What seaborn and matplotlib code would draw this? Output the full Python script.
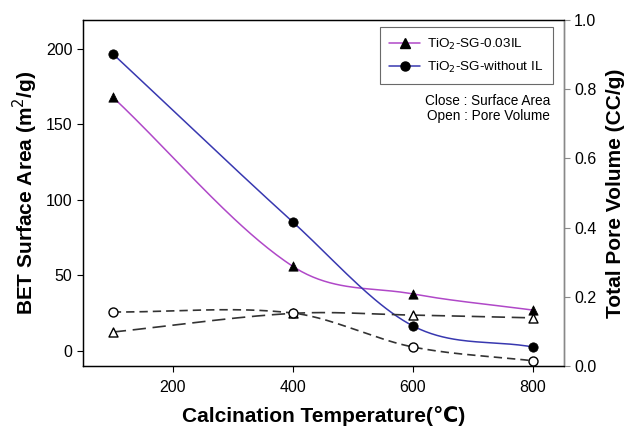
import numpy as np
import pandas as pd
import seaborn as sns
import matplotlib.pyplot as plt
from matplotlib.lines import Line2D

# Values
temp = [100, 400, 600, 800]

# Close symbols: BET surface area (m2/g), left axis
area_il = [168, 56, 37.7, 27]
area_no_il = [196.7, 85.4, 16.6, 2.6]

# Open symbols: total pore volume (CC/g), right axis
pore_il = [0.098, 0.152, 0.147, 0.139]
pore_no_il = [0.156, 0.153, 0.055, 0.015]

label_il = 'TiO$_2$-SG-0.03IL'
label_no_il = 'TiO$_2$-SG-without IL'


# Catmull-Rom style cubic through the points, so the lines are smooth like the original
def smooth(x, y, n=150):
    x = np.asarray(x, float)
    y = np.asarray(y, float)
    h = np.diff(x)
    m = np.zeros(len(x))
    m[0] = (y[1] - y[0]) / h[0]
    m[-1] = (y[-1] - y[-2]) / h[-1]
    m[1:-1] = (y[2:] - y[:-2]) / (x[2:] - x[:-2])
    xs = np.linspace(x[0], x[-1], n)
    idx = np.clip(np.searchsorted(x, xs) - 1, 0, len(x) - 2)
    t = (xs - x[idx]) / h[idx]
    h00 = 2 * t ** 3 - 3 * t ** 2 + 1
    h10 = t ** 3 - 2 * t ** 2 + t
    h01 = -2 * t ** 3 + 3 * t ** 2
    h11 = t ** 3 - t ** 2
    ys = h00 * y[idx] + h10 * h[idx] * m[idx] + h01 * y[idx + 1] + h11 * h[idx] * m[idx + 1]
    return pd.DataFrame({'x': xs, 'y': ys})


sns.set_style('ticks')
plt.rcParams['font.family'] = ['Liberation Sans', 'DejaVu Sans']
plt.rcParams['text.color'] = 'black'
plt.rcParams['axes.labelcolor'] = 'black'
plt.rcParams['xtick.color'] = 'black'
plt.rcParams['ytick.color'] = 'black'
plt.rcParams['axes.edgecolor'] = 'black'

purple = '#b048c8'
blue = '#3838b0'

fig = plt.figure(figsize=(6.32, 4.28), dpi=100)
ax = fig.add_axes([0.131, 0.145, 0.761, 0.808])
ax2 = ax.twinx()

# surface area (left axis)
sns.lineplot(data=smooth(temp, area_il), x='x', y='y', ax=ax, color=purple, lw=1.1, sort=False)
sns.lineplot(data=smooth(temp, area_no_il), x='x', y='y', ax=ax, color=blue, lw=1.1, sort=False)
sns.scatterplot(x=temp, y=area_il, ax=ax, marker='^', color='black', s=45, edgecolor='black', zorder=5)
sns.scatterplot(x=temp, y=area_no_il, ax=ax, marker='o', color='black', s=45, edgecolor='black', zorder=5)

# pore volume (right axis)
sns.lineplot(data=smooth(temp, pore_il), x='x', y='y', ax=ax2, color='#333333', lw=1.2,
             sort=False, linestyle=(0, (8, 4)))
sns.lineplot(data=smooth(temp, pore_no_il), x='x', y='y', ax=ax2, color='#333333', lw=1.2,
             sort=False, linestyle=(0, (5, 3)))
sns.scatterplot(x=temp, y=pore_il, ax=ax2, marker='^', color='white', s=42, edgecolor='black',
                linewidth=1, zorder=5)
sns.scatterplot(x=temp, y=pore_no_il, ax=ax2, marker='o', color='white', s=42, edgecolor='black',
                linewidth=1, zorder=5)

ax.set_xlim(50, 852)
ax.set_ylim(-10, 219)
ax2.set_ylim(0, 1.0)
ax.set_xticks([200, 400, 600, 800])
ax.set_yticks([0, 50, 100, 150, 200])
ax2.set_yticks([0.0, 0.2, 0.4, 0.6, 0.8, 1.0])
ax2.set_yticklabels(['0.0', '0.2', '0.4', '0.6', '0.8', '1.0'])

for a in (ax, ax2):
    a.tick_params(labelsize=11.5, direction='out', length=4, width=0.8)
    for s in a.spines.values():
        s.set_visible(True)
        s.set_linewidth(0.9)
ax.tick_params(axis='x', pad=6)
ax2.spines['right'].set_color('#888888')
ax2.tick_params(axis='y', colors='#888888', labelcolor='black')

ax.set_xlabel('Calcination Temperature(\u2103)', fontsize=15, fontweight='bold', labelpad=8)
ax.set_ylabel('BET Surface Area (m$^2$/g)', fontsize=15, fontweight='bold', labelpad=4)
ax2.set_ylabel('Total Pore Volume (CC/g)', fontsize=15, fontweight='bold', labelpad=7)

handles = [
    Line2D([], [], color=purple, lw=1.1, marker='^', markersize=6.5, markerfacecolor='black',
           markeredgecolor='black'),
    Line2D([], [], color=blue, lw=1.1, marker='o', markersize=6.5, markerfacecolor='black',
           markeredgecolor='black'),
]
leg = ax2.legend(handles, [label_il, label_no_il], loc='upper right', bbox_to_anchor=(0.977, 0.98),
                 fontsize=9.7, frameon=True, fancybox=False, edgecolor='#444444',
                 handlelength=2.3, handletextpad=0.5, borderpad=0.7, labelspacing=0.6,
                 borderaxespad=0)
leg.get_frame().set_linewidth(0.8)

ax2.text(0.972, 0.786, 'Close : Surface Area\nOpen : Pore Volume', transform=ax2.transAxes,
         ha='right', va='top', fontsize=9.8, linespacing=1.1)

fig.savefig('out.png', dpi=100)
